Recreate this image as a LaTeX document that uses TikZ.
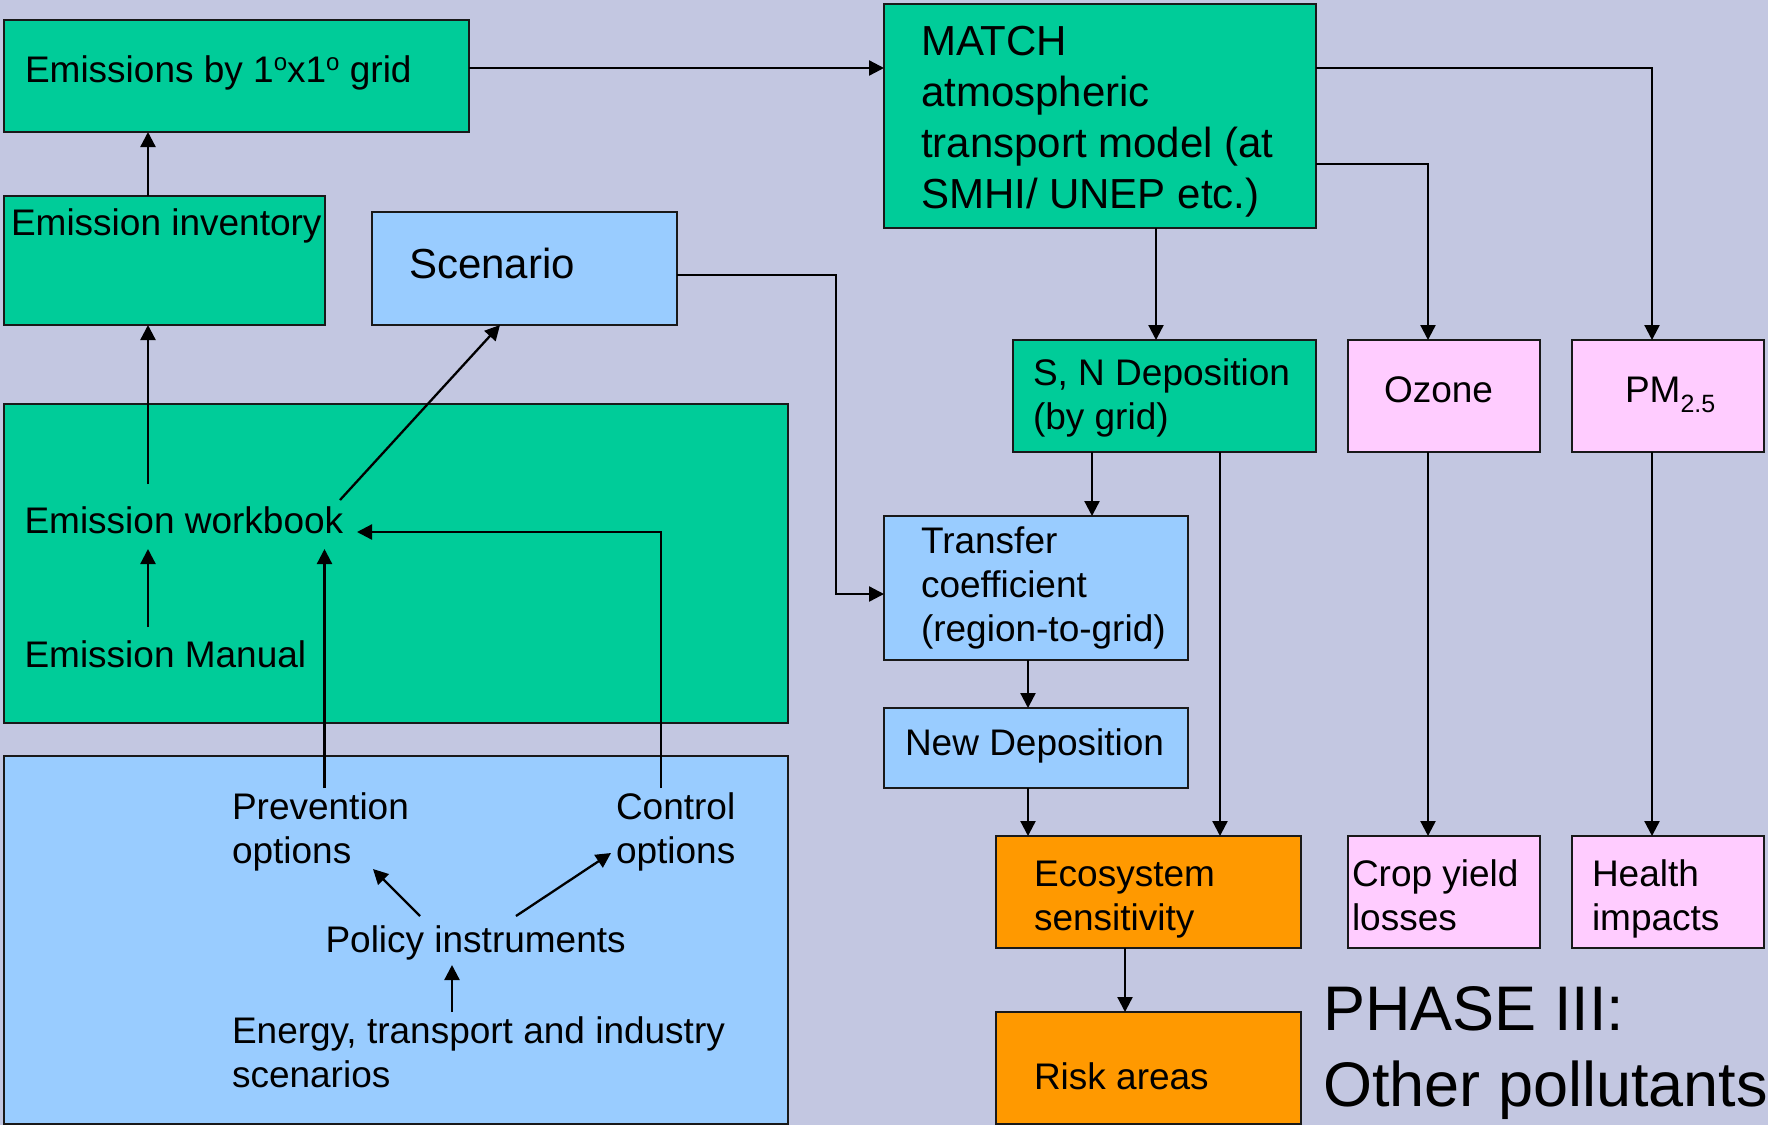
\documentclass[tikz,border=0pt]{standalone}
\usepackage{fontspec}
\setmainfont{Liberation Sans}
\usetikzlibrary{arrows.meta}
\definecolor{bg}{RGB}{195,199,225}
\definecolor{grn}{RGB}{0,204,153}
\definecolor{lblue}{RGB}{153,204,255}
\definecolor{pink}{RGB}{255,204,255}
\definecolor{orng}{RGB}{255,153,0}
\newcommand\tworows[2]{\vtop{\hbox{#1}\hbox{#2}}}
\newcommand\degsup{\raisebox{11.5pt}{\fontsize{24}{24}\selectfont o}}
\begin{document}
\begin{tikzpicture}[x=1pt,y=-1pt,
  box/.style={draw=black!90, line width=2.2pt, inner sep=0pt, outer sep=0pt, anchor=north west},
  lbl/.style={inner sep=0pt, outer sep=0pt, anchor=base west, font=\fontsize{37}{44}\selectfont},
  biglbl/.style={lbl, font=\fontsize{42}{51}\selectfont},
  arr/.style={line width=2.3pt, -{Triangle[length=15pt,width=15pt]}},
  ln/.style={line width=2.3pt}]
\useasboundingbox[fill=bg] (0,0) rectangle (1768,1125);

% boxes
\node[box, fill=grn, minimum width=465pt, minimum height=112pt] (grid) at (4,20) {};
\node[box, fill=grn, minimum width=321pt, minimum height=129pt] (inv) at (4,196) {};
\node[box, fill=lblue, minimum width=305pt, minimum height=113pt] (scen) at (372,212) {};
\node[box, fill=grn, minimum width=784pt, minimum height=319pt] (bigg) at (4,404) {};
\node[box, fill=lblue, minimum width=784pt, minimum height=368pt] (bigb) at (4,756) {};
\node[box, fill=grn, minimum width=432pt, minimum height=224pt] (match) at (884,4) {};
\node[box, fill=grn, minimum width=303pt, minimum height=112pt] (sn) at (1013,340) {};
\node[box, fill=pink, minimum width=192pt, minimum height=112pt] (ozone) at (1348,340) {};
\node[box, fill=pink, minimum width=192pt, minimum height=112pt] (pm) at (1572,340) {};
\node[box, fill=lblue, minimum width=304pt, minimum height=144pt] (tc) at (884,516) {};
\node[box, fill=lblue, minimum width=304pt, minimum height=80pt] (nd) at (884,708) {};
\node[box, fill=orng, minimum width=305pt, minimum height=112pt] (eco) at (996,836) {};
\node[box, fill=pink, minimum width=192pt, minimum height=112pt] (crop) at (1348,836) {};
\node[box, fill=pink, minimum width=192pt, minimum height=112pt] (health) at (1572,836) {};
\node[box, fill=orng, minimum width=305pt, minimum height=112pt] (risk) at (996,1012) {};

% texts
\node[lbl] (tgrid) at (25,82) {Emissions by 1\degsup x1\degsup{} grid};
\node[lbl] (tinv) at (11,235) {Emission inventory};
\node[lbl, font=\fontsize{42}{51}\selectfont] (tscen) at (409,278) {Scenario};
\node[biglbl] (tmatch) at (921,55) {\vtop{\hbox{MATCH}\hbox{atmospheric}\hbox{transport model (at}\hbox{SMHI/ UNEP etc.)}}};
\node[lbl] (tsn) at (1033,385) {\tworows{S, N Deposition}{(by grid)}};
\node[lbl] (tozone) at (1384,402) {Ozone};
\node[lbl] (tpm) at (1625,402) {PM\raisebox{-10pt}{\fontsize{25}{25}\selectfont 2.5}};
\node[lbl] (ttc) at (921,553) {\vtop{\hbox{Transfer}\hbox{coefficient}\hbox{(region-to-grid)}}};
\node[lbl] (tnd) at (905,755) {New Deposition};
\node[lbl] (teco) at (1034,886) {\tworows{Ecosystem}{sensitivity}};
\node[lbl] (trisk) at (1034,1089) {Risk areas};
\node[lbl] (tcrop) at (1352,886) {\tworows{Crop yield}{losses}};
\node[lbl] (thealth) at (1592,886) {\tworows{Health}{impacts}};
\node[lbl, font=\fontsize{63}{76}\selectfont] (tphase) at (1323,1030) {\tworows{PHASE III:}{Other pollutants}};
\node[lbl] (wb) at (24.5,533) {Emission workbook};
\node[lbl] (man) at (24.5,667) {Emission Manual};
\node[lbl] (prev) at (232,819) {\tworows{Prevention}{options}};
\node[lbl] (ctrl) at (616,819) {\tworows{Control}{options}};
\node[lbl] (pol) at (325.5,952) {Policy instruments};
\node[lbl] (ener) at (232,1043) {\tworows{Energy, transport and industry}{scenarios}};

% helper coordinates
\coordinate (c148) at (148,0);
\coordinate (r68) at (0,68);
\coordinate (r164) at (0,164);
\coordinate (r275) at (0,275);
\coordinate (r594) at (0,594);
\coordinate (c836) at (836,0);
\coordinate (c1156) at (1156,0);
\coordinate (c1428) at (1428,0);
\coordinate (c1652) at (1652,0);
\coordinate (c1092) at (1092,0);
\coordinate (c1220) at (1220,0);
\coordinate (c1028) at (1028,0);
\coordinate (c1125) at (1125,0);
\coordinate (c500) at (500,0);
\coordinate (wbup) at (148,484);
\coordinate (wbdn) at (148,549);
\coordinate (manup) at (148,627);
\coordinate (wbright) at (340,500);
\coordinate (wbprev) at (324.5,549);
\coordinate (prevup) at (324.5,788);
\coordinate (ctrlup) at (661,788);
\coordinate (ctrlbend) at (661,532);
\coordinate (wbctrl) at (357,532);
\coordinate (polL) at (420,916);
\coordinate (prevdn) at (373,869);
\coordinate (polR) at (516,916);
\coordinate (ctrldn) at (611,853);
\coordinate (enerup) at (452,1012);
\coordinate (poldn) at (452,965);

% connectors between boxes
\draw[arr] (inv.north -| c148) -- (grid.south -| c148);
\draw[arr] (grid.east |- r68) -- (match.west |- r68);
\draw[arr] (match.south -| c1156) -- (sn.north -| c1156);
\draw[arr] (match.east |- r164) -| (ozone.north -| c1428);
\draw[arr] (match.east |- r68) -| (pm.north -| c1652);
\draw[arr] (sn.south -| c1092) -- (tc.north -| c1092);
\draw[arr] (sn.south -| c1220) -- (eco.north -| c1220);
\draw[arr] (ozone.south -| c1428) -- (crop.north -| c1428);
\draw[arr] (pm.south -| c1652) -- (health.north -| c1652);
\draw[arr] (tc.south -| c1028) -- (nd.north -| c1028);
\draw[arr] (nd.south -| c1028) -- (eco.north -| c1028);
\draw[arr] (eco.south -| c1125) -- (risk.north -| c1125);
\draw[arr] (scen.east |- r275) -| (c836 |- r594) -- (tc.west |- r594);

% connectors among the left labels
\draw[arr] (wbup) -- (inv.south -| c148);
\draw[arr] (manup) -- (wbdn);
\draw[arr] (wbright) -- (scen.south -| c500);
\draw[arr] (prevup) -- (wbprev);
\draw[arr] (ctrlup) -- (ctrlbend) -- (wbctrl);
\draw[arr] (polL) -- (prevdn);
\draw[arr] (polR) -- (ctrldn);
\draw[arr] (enerup) -- (poldn);
\end{tikzpicture}
\end{document}
